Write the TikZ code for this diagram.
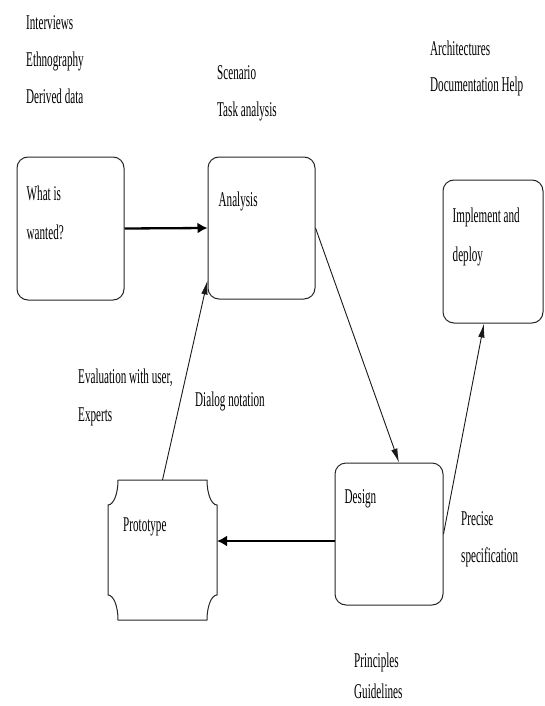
\documentclass[tikz,border=0pt]{standalone}
\usepackage{fontspec}
\setmainfont[FakeStretch=0.53]{Liberation Serif}
\usetikzlibrary{arrows.meta,calc}
\begin{document}
\begin{tikzpicture}[x=1pt,y=-1pt,
  box/.style={draw=black!85, line width=1pt, rounded corners=11pt, inner sep=0pt},
  lbl/.style={anchor=base west, inner sep=0pt, font=\fontsize{21}{21}\selectfont},
  thinarrow/.style={draw=black!90, line width=0.9pt, -{Latex[length=14pt,width=6.5pt]}},
  thickarrow/.style={draw=black, line width=2.3pt, -{Latex[length=10pt,width=11pt]}}]
\useasboundingbox (0,0) rectangle (544,706);

% boxes
\node[box, minimum width=107pt, minimum height=143pt] (what) at (70.5,228.5) {};
\node[box, minimum width=107pt, minimum height=142pt] (analysis) at (261.5,228) {};
\node[box, minimum width=100pt, minimum height=143pt] (impl) at (493,251.5) {};
\node[box, minimum width=108pt, minimum height=142pt] (design) at (389,534) {};
\node[minimum width=109pt, minimum height=140pt, inner sep=0pt, outer sep=0pt] (proto) at (162.5,550) {};
\draw[draw=black!85, line width=1pt]
  ($(proto.north west)+(10,0)$) -- ($(proto.north east)+(-10,0)$)
  .. controls ($(proto.north east)+(-10,14)$) and ($(proto.north east)+(-5.5,25)$) .. ($(proto.north east)+(0,25)$)
  -- ($(proto.south east)+(0,-25)$)
  .. controls ($(proto.south east)+(-5.5,-25)$) and ($(proto.south east)+(-10,-14)$) .. ($(proto.south east)+(-10,0)$)
  -- ($(proto.south west)+(10,0)$)
  .. controls ($(proto.south west)+(10,-14)$) and ($(proto.south west)+(5.5,-25)$) .. ($(proto.south west)+(0,-25)$)
  -- ($(proto.north west)+(0,25)$)
  .. controls ($(proto.north west)+(5.5,25)$) and ($(proto.north west)+(10,14)$) .. ($(proto.north west)+(10,0)$);

% texts inside boxes
\node[lbl] (t1) at ($(what.north west)+(10,44)$) {What is};
\node[lbl] (t2) at ($(what.north west)+(10,83)$) {wanted?};
\node[lbl] (t3) at ($(analysis.north west)+(11,50)$) {Analysis};
\node[lbl] (t4) at ($(impl.north west)+(10,43)$) {Implement and};
\node[lbl] (t5) at ($(impl.north west)+(10,82)$) {deploy};
\node[lbl] (t6) at ($(design.north west)+(10,41)$) {Design};
\node[lbl] (t7) at ($(proto.north west)+(15,51)$) {Prototype};

% free texts
\node[lbl] (a1) at (26,30) {Interviews};
\node[lbl] (a2) at (26,67) {Ethnography};
\node[lbl] (a3) at (26,104) {Derived data};
\node[lbl] (b1) at (217,80) {Scenario};
\node[lbl] (b2) at (217,117) {Task analysis};
\node[lbl] (c1) at (430,56) {Architectures};
\node[lbl] (c2) at (430,92) {Documentation Help};
\node[lbl] (d1) at (78,383) {Evaluation with user,};
\node[lbl] (d2) at (78,421) {Experts};
\node[lbl] (e1) at (195,406) {Dialog notation};
\node[lbl] (f1) at (461,525) {Precise};
\node[lbl] (f2) at (461,562) {specification};
\node[lbl] (g1) at (354,667) {Principles};
\node[lbl] (g2) at (354,698) {Guidelines};

% connectors
\draw[thickarrow] (what.east) -- (analysis.west);
\draw[thinarrow] (analysis.east) -- ($(design.north)+(10,0)$);
\draw[thinarrow] (design.east) -- ($(impl.south)+(-9,0)$);
\draw[thickarrow] ($(design.west)+(0,7)$) -- ($(proto.east)+(0,-9)$);
\draw[thinarrow] (proto.north) -- ($(analysis.south west)+(0,-19)$);
\end{tikzpicture}
\end{document}
